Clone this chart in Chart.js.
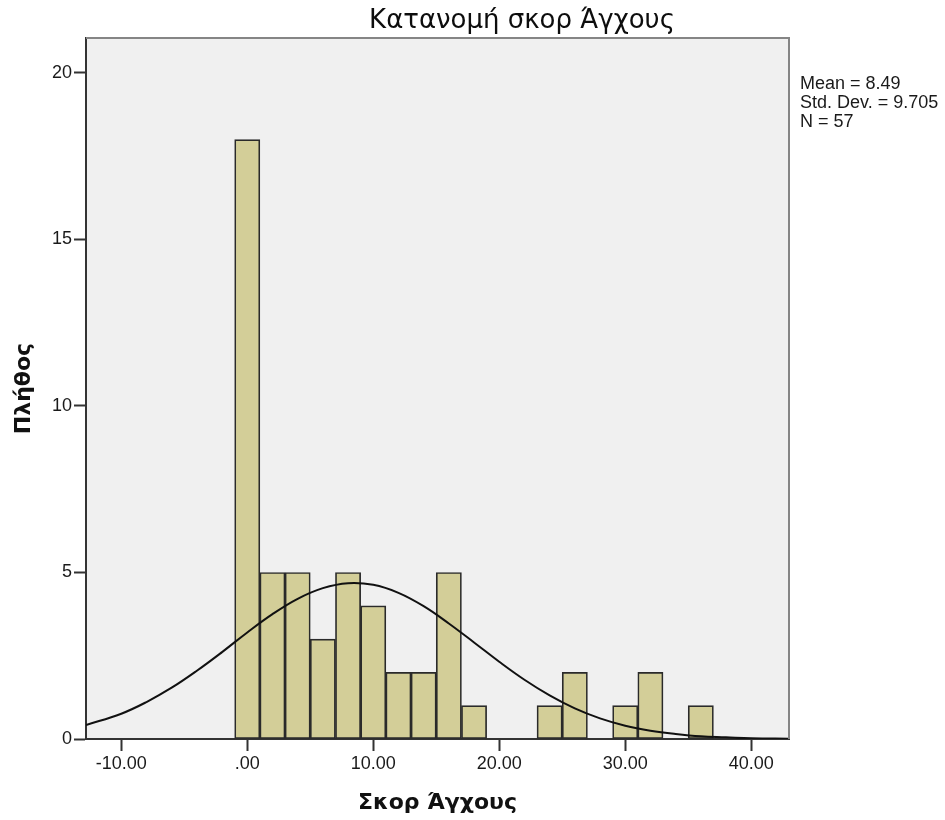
<!DOCTYPE html>
<html>
<head>
<meta charset="utf-8">
<script src="https://cdn.jsdelivr.net/npm/chart.js@4.4.1/dist/chart.umd.min.js"></script>
<style>
  body { margin: 0; background: #fff; }
  #wrap { position: relative; width: 945px; height: 820px; }
</style>
</head>
<body>
<div id="wrap"><canvas id="chart"></canvas></div>
<script>
// histogram bins (width 2, centred on even scores)
const binCenters = [0, 2, 4, 6, 8, 10, 12, 14, 16, 18, 20, 22, 24, 26, 28, 30, 32, 34, 36];
const binCounts  = [18, 5, 5, 3, 5, 4, 2, 2, 5, 1, 0, 0, 1, 2, 0, 1, 2, 0, 1];

// normal curve
const curveX = [-12.8, -10, -8, -6, -4, -2, 0, 2, 4, 6, 8, 10, 12, 14, 16, 18, 20, 22, 24, 26, 28, 30, 32, 34, 36, 38, 40, 43];
const curveY = [0.42, 0.76, 1.11, 1.54, 2.05, 2.61, 3.20, 3.75, 4.21, 4.53, 4.68, 4.63, 4.39, 3.99, 3.47, 2.90, 2.32, 1.78, 1.31, 0.92, 0.62, 0.40, 0.25, 0.15, 0.08, 0.05, 0.02, 0.01];

const xTicks = [-10, 0, 10, 20, 30, 40];
const yTicks = [0, 5, 10, 15, 20];
const statsLines = ['Mean = 8.49', 'Std. Dev. = 9.705', 'N = 57'];
const chartTitle = 'Κατανομή σκορ Άγχους';

const tickFont = { family: 'Liberation Sans, Arial, sans-serif', size: 18 };
const axisTitleFont = { family: 'DejaVu Sans, Verdana, sans-serif', size: 22, weight: 'bold' };

const frame = {
    id: 'frame',
    beforeDraw(chart) {
        const { ctx, chartArea: a } = chart;
        ctx.save();
        ctx.fillStyle = '#f0f0f0';
        ctx.fillRect(a.left, a.top, a.right - a.left, a.bottom - a.top);
        ctx.restore();
    },
    afterDraw(chart) {
        const { ctx, chartArea: a } = chart;
        ctx.save();
        ctx.strokeStyle = '#858585';
        ctx.lineWidth = 2;
        ctx.beginPath();
        ctx.moveTo(a.left, a.top);
        ctx.lineTo(a.right, a.top);
        ctx.lineTo(a.right, a.bottom);
        ctx.stroke();

        ctx.fillStyle = '#0d0d0d';
        ctx.font = '26px "DejaVu Sans", Verdana, sans-serif';
        ctx.textAlign = 'center';
        ctx.textBaseline = 'alphabetic';
        ctx.fillText(chartTitle, 522, 28);

        ctx.fillStyle = '#1a1a1a';
        ctx.font = '18px "Liberation Sans", Arial, sans-serif';
        ctx.textAlign = 'left';
        statsLines.forEach((s, i) => ctx.fillText(s, 800, 89 + i * 19));
        ctx.restore();
    }
};

new Chart(document.getElementById('chart'), {
    type: 'bar',
    data: {
        datasets: [
            {
                type: 'line',
                data: curveX.map((x, i) => ({ x, y: curveY[i] })),
                borderColor: '#111',
                borderWidth: 2,
                pointRadius: 0,
                tension: 0.4,
                fill: false,
                order: 0
            },
            {
                type: 'bar',
                data: binCenters.map((x, i) => ({ x, y: binCounts[i] || null })),
                backgroundColor: '#d3ce98',
                borderColor: '#2a2a2a',
                borderWidth: 1.7,
                borderSkipped: false,
                barPercentage: 1,
                categoryPercentage: 1,
                order: 1
            }
        ]
    },
    options: {
        responsive: true,
        maintainAspectRatio: false,
        animation: false,
        layout: { padding: { left: 0, top: 38, right: 156, bottom: 0 } },
        plugins: {
            legend: { display: false },
            tooltip: { enabled: false }
        },
        scales: {
            x: {
                type: 'linear',
                offset: false,
                min: -12.8,
                max: 43,
                afterFit: s => { s.height = 81; },
                afterBuildTicks: s => { s.ticks = xTicks.map(v => ({ value: v })); },
                grid: { offset: false, drawOnChartArea: false, drawTicks: true, tickLength: 12, tickWidth: 2, tickColor: '#333' },
                border: { display: true, color: '#333', width: 2 },
                ticks: {
                    autoSkip: false, maxRotation: 0, padding: 2, color: '#1a1a1a', font: tickFont,
                    callback: v => v === 0 ? '.00' : v.toFixed(2)
                },
                title: { display: true, text: 'Σκορ Άγχους', color: '#111', font: axisTitleFont, padding: { top: 0, bottom: 4 } }
            },
            y: {
                min: 0,
                max: 21.05,
                afterFit: s => { s.width = 86; },
                afterBuildTicks: s => { s.ticks = yTicks.map(v => ({ value: v })); },
                grid: { drawOnChartArea: false, drawTicks: true, tickLength: 12, tickWidth: 2, tickColor: '#333' },
                border: { display: true, color: '#333', width: 2 },
                ticks: { autoSkip: false, padding: 2, color: '#1a1a1a', font: tickFont },
                title: { display: true, text: 'Πλήθος', color: '#111', font: axisTitleFont, padding: { top: 11, bottom: 0 } }
            }
        }
    },
    plugins: [frame]
});
</script>
</body>
</html>
